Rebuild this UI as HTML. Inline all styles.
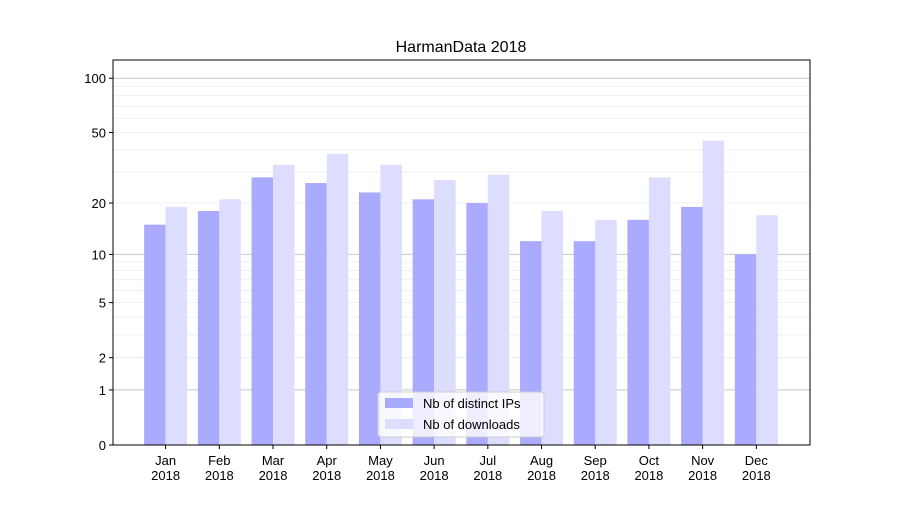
<!DOCTYPE html>
<html><head><meta charset="utf-8"><style>
body{margin:0;background:#fff;font-family:"Liberation Sans",sans-serif;}
</style></head><body>
<svg id="chart" width="900" height="500" xmlns="http://www.w3.org/2000/svg" font-family="Liberation Sans, sans-serif">
<rect width="900" height="500" fill="#fff"/>
<text x="461" y="52" text-anchor="middle" font-size="16">HarmanData 2018</text>
<g id="grid"></g><g id="bars"></g><g id="axes"></g>
</svg>
<script>
const months = ["Jan","Feb","Mar","Apr","May","Jun","Jul","Aug","Sep","Oct","Nov","Dec"];
const distinctIPs = [15,18,28,26,23,21,20,12,12,16,19,10];
const downloads = [19,21,33,38,33,27,29,18,16,28,45,17];
const yTicks = [0,1,2,5,10,20,50,100];
const NS="http://www.w3.org/2000/svg";
const L=113,R=810,T=60,B=445,slot=53.7;
function y(v){return B-183*Math.log10(1+v);}
function xc(i){return L+(i+0.98)*slot;}
function mk(tag,attrs,parent){const e=document.createElementNS(NS,tag);for(const k in attrs)e.setAttribute(k,attrs[k]);parent.appendChild(e);return e;}
const grid=document.getElementById('grid'),bars=document.getElementById('bars'),axes=document.getElementById('axes');
// minor grid
[2,3,4,5,6,7,8,9,20,30,40,50,60,70,80,90].forEach(v=>{
 const l=mk('line',{x1:L,x2:R,y1:y(v),y2:y(v),stroke:'#ebebeb','stroke-width':0.8},grid);
 
 
});
[1,10,100].forEach(v=>{
 const l=mk('line',{x1:L,x2:R,y1:y(v),y2:y(v),stroke:'#c8c8c8','stroke-width':1},grid);
 
 
});
const bw=slot*0.4;
months.forEach((m,i)=>{
 const c=xc(i);
 const b1=mk('rect',{x:c-bw,y:y(distinctIPs[i]),width:bw,height:B-y(distinctIPs[i]),fill:'#aaaaff'},bars);
 
 
 const b2=mk('rect',{x:c,y:y(downloads[i]),width:bw,height:B-y(downloads[i]),fill:'#ddddff'},bars);
 
 
 mk('line',{x1:c,x2:c,y1:B,y2:B+4,stroke:'#000'},axes);
 const t=mk('text',{x:c,y:B+20,'text-anchor':'middle','font-size':13},axes);
 t.textContent=m;
 
 
 const t2=mk('text',{x:c,y:B+35,'text-anchor':'middle','font-size':13},axes);
 t2.textContent='2018';
 
 
});
yTicks.forEach(v=>{
 mk('line',{x1:L-4,x2:L,y1:y(v),y2:y(v),stroke:'#000'},axes);
 const t=mk('text',{x:L-7,y:y(v)+5,'text-anchor':'end','font-size':13},axes);
 t.textContent=v;
 
 
});
const frame=mk('rect',{x:L,y:T,width:R-L,height:B-T,fill:'none',stroke:'#000','stroke-width':1},axes);


const lg=mk('g',{},axes);


mk('rect',{x:378,y:392,width:166,height:45,rx:3,fill:'#fff','fill-opacity':0.8,stroke:'#ccc'},lg);
mk('rect',{x:385,y:398,width:28,height:10,fill:'#aaaaff'},lg);
mk('rect',{x:385,y:419,width:28,height:10,fill:'#ddddff'},lg);
const l1=mk('text',{x:423,y:408,'font-size':13},lg);l1.textContent='Nb of distinct IPs';


const l2=mk('text',{x:423,y:429,'font-size':13},lg);l2.textContent='Nb of downloads';


</script>
</body></html>
